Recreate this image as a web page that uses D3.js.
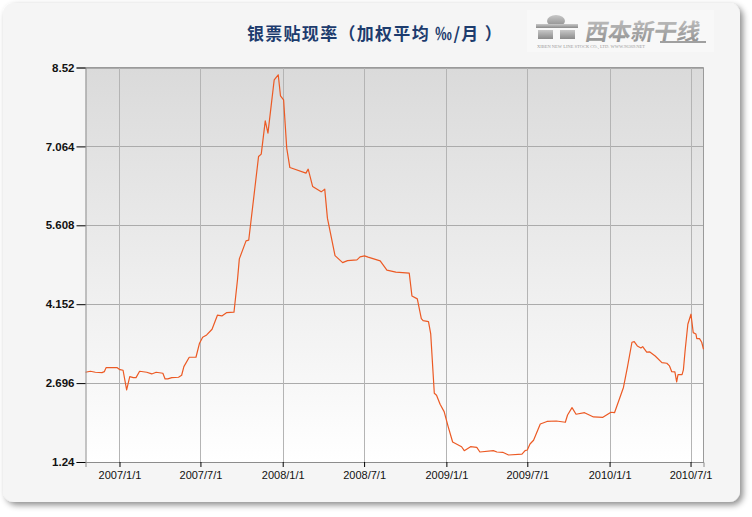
<!DOCTYPE html>
<html><head><meta charset="utf-8">
<script src="https://cdn.jsdelivr.net/npm/d3@7"></script>
<style>body{margin:0;background:#fff;}svg{display:block;}</style>
</head><body>
<svg id="c" width="752" height="517"></svg>
<script>
const dates = ["2006-10-17","2006-10-28","2006-11-08","2006-11-23","2006-11-28","2006-12-02","2006-12-27","2007-01-02","2007-01-09","2007-01-17","2007-01-24","2007-02-01","2007-02-07","2007-02-15","2007-03-03","2007-03-14","2007-03-24","2007-04-08","2007-04-13","2007-04-19","2007-04-28","2007-05-13","2007-05-20","2007-05-25","2007-06-06","2007-06-21","2007-06-29","2007-07-06","2007-07-15","2007-07-27","2007-08-08","2007-08-18","2007-08-29","2007-09-14","2007-09-22","2007-09-26","2007-10-11","2007-10-17","2007-11-08","2007-11-14","2007-11-23","2007-11-29","2007-12-13","2007-12-22","2007-12-27","2008-01-03","2008-01-10","2008-01-17","2008-02-22","2008-02-27","2008-03-08","2008-03-27","2008-04-04","2008-04-10","2008-04-27","2008-05-14","2008-05-25","2008-06-15","2008-06-22","2008-07-02","2008-07-10","2008-08-06","2008-08-21","2008-09-10","2008-10-10","2008-10-16","2008-10-28","2008-11-06","2008-11-10","2008-11-22","2008-11-27","2008-12-05","2008-12-10","2008-12-18","2008-12-27","2009-01-05","2009-01-15","2009-02-04","2009-02-10","2009-02-24","2009-03-10","2009-03-17","2009-04-16","2009-04-24","2009-05-07","2009-05-20","2009-06-19","2009-06-26","2009-07-01","2009-07-07","2009-07-15","2009-07-30","2009-08-14","2009-09-04","2009-09-24","2009-09-29","2009-10-09","2009-10-18","2009-11-06","2009-11-26","2009-12-17","2010-01-04","2010-01-12","2010-02-01","2010-02-10","2010-02-20","2010-02-25","2010-03-04","2010-03-12","2010-03-16","2010-03-25","2010-04-01","2010-04-13","2010-04-28","2010-05-09","2010-05-15","2010-05-20","2010-05-27","2010-05-31","2010-06-03","2010-06-12","2010-06-15","2010-06-19","2010-06-25","2010-07-02","2010-07-07","2010-07-13","2010-07-15","2010-07-21","2010-07-26","2010-07-30"];
const rates = [2.896,2.915,2.896,2.889,2.907,2.981,2.981,2.944,2.933,2.569,2.815,2.797,2.797,2.915,2.896,2.865,2.896,2.878,2.773,2.773,2.797,2.804,2.841,3.000,3.173,3.173,3.432,3.542,3.585,3.690,3.949,3.936,3.997,4.004,4.613,4.988,5.321,5.333,6.877,6.921,7.536,7.309,8.293,8.386,7.998,7.924,7.032,6.674,6.571,6.644,6.323,6.225,6.275,5.740,5.049,4.920,4.957,4.970,5.025,5.044,5.020,4.951,4.780,4.743,4.724,4.305,4.250,3.886,3.849,3.831,3.603,2.508,2.472,2.305,2.169,1.892,1.609,1.522,1.449,1.522,1.511,1.425,1.449,1.425,1.419,1.369,1.384,1.449,1.462,1.572,1.641,1.942,1.988,1.997,1.973,2.108,2.243,2.121,2.150,2.071,2.065,2.158,2.150,2.616,2.994,3.450,3.461,3.382,3.345,3.369,3.266,3.271,3.197,3.074,3.062,3.013,2.907,2.902,2.717,2.852,2.852,2.939,3.308,3.783,3.967,3.627,3.603,3.517,3.517,3.450,3.321];
const yTicks = [1.24, 2.696, 4.152, 5.608, 7.064, 8.52];
const yTickLabels = ["1.24","2.696","4.152","5.608","7.064","8.52"];
const xTickDates = ["2007-01-01","2007-07-01","2008-01-01","2008-07-01","2009-01-01","2009-07-01","2010-01-01","2010-07-01"];
const title = "银票贴现率（加权平均 ‰/月 ）";

const parse = d3.timeParse("%Y-%m-%d");
const data = dates.map((d,i)=>({date:parse(d), v:rates[i]}));
const svg = d3.select("#c");
const L = 85.5, R = 703.5, T = 67.5, B = 462;

const defs = svg.append("defs");
const f = defs.append("filter").attr("id","sh").attr("x","-5%").attr("y","-5%").attr("width","115%").attr("height","115%");
f.append("feDropShadow").attr("dx",3).attr("dy",3).attr("stdDeviation",3).attr("flood-color","#000").attr("flood-opacity",0.45);
const g1 = defs.append("linearGradient").attr("id","bg").attr("x1",0).attr("y1",0).attr("x2",0).attr("y2",1);
g1.append("stop").attr("offset","0%").attr("stop-color","#dadada");
g1.append("stop").attr("offset","100%").attr("stop-color","#ffffff");
const g2 = defs.append("linearGradient").attr("id","lg").attr("x1",0).attr("y1",0).attr("x2",0).attr("y2",1);
g2.append("stop").attr("offset","0%").attr("stop-color","#c8c8c8");
g2.append("stop").attr("offset","100%").attr("stop-color","#8a8a8a");

svg.append("rect").attr("x",3).attr("y",3).attr("width",737).attr("height",499).attr("rx",11)
  .attr("fill","#f5f5f5").attr("filter","url(#sh)");

const x = d3.scaleTime().domain(d3.extent(data,d=>d.date)).range([L,R]);
const y = d3.scaleLinear().domain([1.24,8.52]).range([B,T]);

svg.append("rect").attr("x",L).attr("y",T).attr("width",R-L).attr("height",B-T).attr("fill","url(#bg)");

// grid
svg.append("g").selectAll("line").data(yTicks).join("line")
  .attr("x1",L).attr("x2",R).attr("y1",d=>Math.round(y(d))+0.5).attr("y2",d=>Math.round(y(d))+0.5)
  .attr("stroke","#ababab").attr("stroke-width",1);
svg.append("g").selectAll("line").data(xTickDates.map(parse)).join("line")
  .attr("y1",T).attr("y2",B).attr("x1",d=>Math.round(x(d))+0.5).attr("x2",d=>Math.round(x(d))+0.5)
  .attr("stroke","#b4b4b4").attr("stroke-width",1);
svg.append("path").attr("d",`M${L},${T}H${R}V${B}`).attr("fill","none").attr("stroke","#9a9a9a");

// line
svg.append("path").datum(data)
  .attr("d", d3.line().x(d=>x(d.date)).y(d=>y(d.v)))
  .attr("fill","none").attr("stroke","#ec5a24").attr("stroke-width",1.2).attr("stroke-linejoin","round");

// axes
const yAx = svg.append("g").attr("transform",`translate(${L},0)`)
  .call(d3.axisLeft(y).tickValues(yTicks).tickSize(9).tickPadding(2).tickFormat((d,i)=>yTickLabels[i]));
yAx.select(".domain").attr("stroke","#8c8c8c");
yAx.selectAll(".tick line").attr("stroke","#000");
yAx.selectAll("text").attr("font-family","'Liberation Sans',Arial,sans-serif").attr("font-size",11.5).attr("font-weight","bold").attr("fill","#111");

const xAx = svg.append("g").attr("transform",`translate(0,${B})`)
  .call(d3.axisBottom(x).tickValues(xTickDates.map(parse)).tickSize(5).tickPadding(4).tickFormat(d3.timeFormat("%Y/%-m/%-d")));
xAx.select(".domain").attr("stroke","#8c8c8c");
xAx.selectAll(".tick line").attr("stroke","#000");
xAx.selectAll("text").attr("font-family","'Liberation Sans',Arial,sans-serif").attr("font-size",11).attr("fill","#111");

// title
svg.append("text").attr("x",375).attr("y",40).attr("text-anchor","middle")
  .attr("font-family","'Noto Sans CJK SC','Noto Sans',sans-serif").attr("font-size",17).attr("font-weight","bold")
  .attr("letter-spacing",1.3).attr("fill","#1d3c6e").text(title);

// logo
const lg = svg.append("g");
lg.append("rect").attr("x",527).attr("y",10).attr("width",187).attr("height",42).attr("fill","#f8f8f8");
lg.append("ellipse").attr("cx",556).attr("cy",21).attr("rx",9).attr("ry",6).attr("fill","url(#lg)");
lg.append("rect").attr("x",536).attr("y",24).attr("width",42).attr("height",4).attr("fill","url(#lg)");
lg.append("rect").attr("x",538).attr("y",30).attr("width",15).attr("height",9).attr("fill","url(#lg)");
lg.append("rect").attr("x",560).attr("y",30).attr("width",15).attr("height",9).attr("fill","url(#lg)");
lg.append("text").attr("x",585).attr("y",40).attr("font-family","'Noto Sans CJK SC',sans-serif")
  .attr("font-size",23).attr("font-weight","bold").attr("fill","url(#lg)")
  .attr("transform","translate(6,0) skewX(-10)").text("西本新干线");
lg.append("path").attr("d","M660,42 H706").attr("stroke","#a0a0a0").attr("stroke-width",2);
lg.append("text").attr("x",537).attr("y",48).attr("font-family","'Liberation Serif',serif").attr("font-size",4.5)
  .attr("fill","#9a9a9a").text("XIBEN NEW LINE STOCK CO., LTD.      WWW.96369.NET");
</script>
</body></html>
